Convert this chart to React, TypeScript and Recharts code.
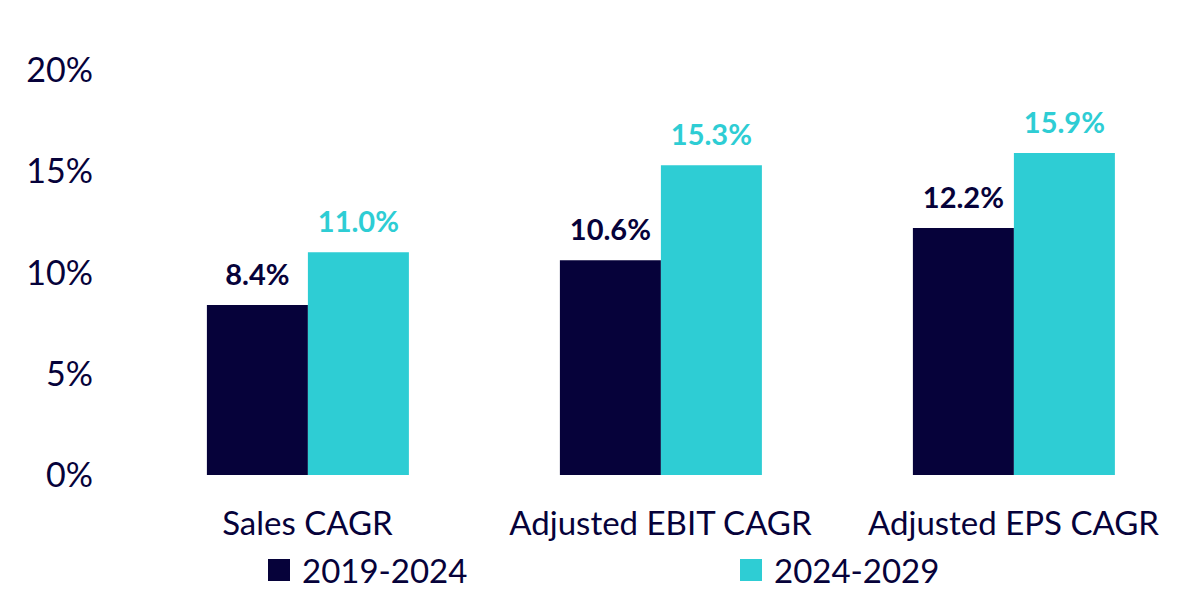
import { Bar, BarChart, LabelList, Legend, XAxis, YAxis } from 'recharts'

const categories = ['Sales CAGR', 'Adjusted EBIT CAGR', 'Adjusted EPS CAGR']
const period1 = [8.4, 10.6, 12.2]
const period2 = [11.0, 15.3, 15.9]
const yTicks = [0, 5, 10, 15, 20]

const NAVY = '#06023a'
const CYAN = '#2ecdd4'
const FONT = 'Lato, "Open Sans", sans-serif'

const data = categories.map((name, i) => ({ name, p1: period1[i], p2: period2[i] }))

const pct = (v: number) => `${v.toFixed(1)}%`

const LegendContent = ({ payload }: any) => (
  <div style={{ display: 'flex', alignItems: 'center', height: 38, paddingTop: 2, paddingLeft: 260, boxSizing: 'border-box' }}>
    {(payload || []).map((entry: any, i: number) => (
      <div key={`item-${i}`} style={{ display: 'flex', alignItems: 'center', width: i === 0 ? 472 : 'auto' }}>
        <span style={{ width: 22, height: 22, background: entry.color, display: 'inline-block', marginRight: 12 }} />
        <span style={{ fontFamily: FONT, fontSize: 33, color: NAVY, lineHeight: '28px' }}>{entry.value}</span>
      </div>
    ))}
  </div>
)

export default function App() {
  return (
    <div style={{ width: 1192, height: 582, fontFamily: FONT }}>
      <BarChart
        width={1192}
        height={582}
        data={data}
        margin={{ top: 62, right: 10, left: 8, bottom: 0 }}
        barCategoryGap='21.5%'
        barGap={0}
      >
        <XAxis
          dataKey='name'
          axisLine={false}
          tickLine={false}
          tickSize={0}
          tickMargin={37}
          height={75}
          interval={0}
          tick={{ fill: NAVY, fontSize: 33, fontFamily: FONT }}
        />
        <YAxis
          domain={[0, 20]}
          ticks={yTicks}
          axisLine={false}
          tickLine={false}
          tickSize={0}
          tickMargin={38}
          width={115}
          tickFormatter={(v) => `${v}%`}
          tick={{ fill: NAVY, fontSize: 34, fontFamily: FONT }}
        />
        <Legend
          verticalAlign='bottom'
          height={40}
          wrapperStyle={{ left: 0, width: 1192 }}
          content={<LegendContent />}
        />
        <Bar dataKey='p1' name='2019-2024' fill={NAVY} isAnimationActive={false}>
          <LabelList dataKey='p1' position='top' offset={20} formatter={pct} fill={NAVY} fontSize={29} fontWeight={700} fontFamily={FONT} />
        </Bar>
        <Bar dataKey='p2' name='2024-2029' fill={CYAN} isAnimationActive={false}>
          <LabelList dataKey='p2' position='top' offset={20} formatter={pct} fill={CYAN} fontSize={29} fontWeight={700} fontFamily={FONT} />
        </Bar>
      </BarChart>
    </div>
  )
}
